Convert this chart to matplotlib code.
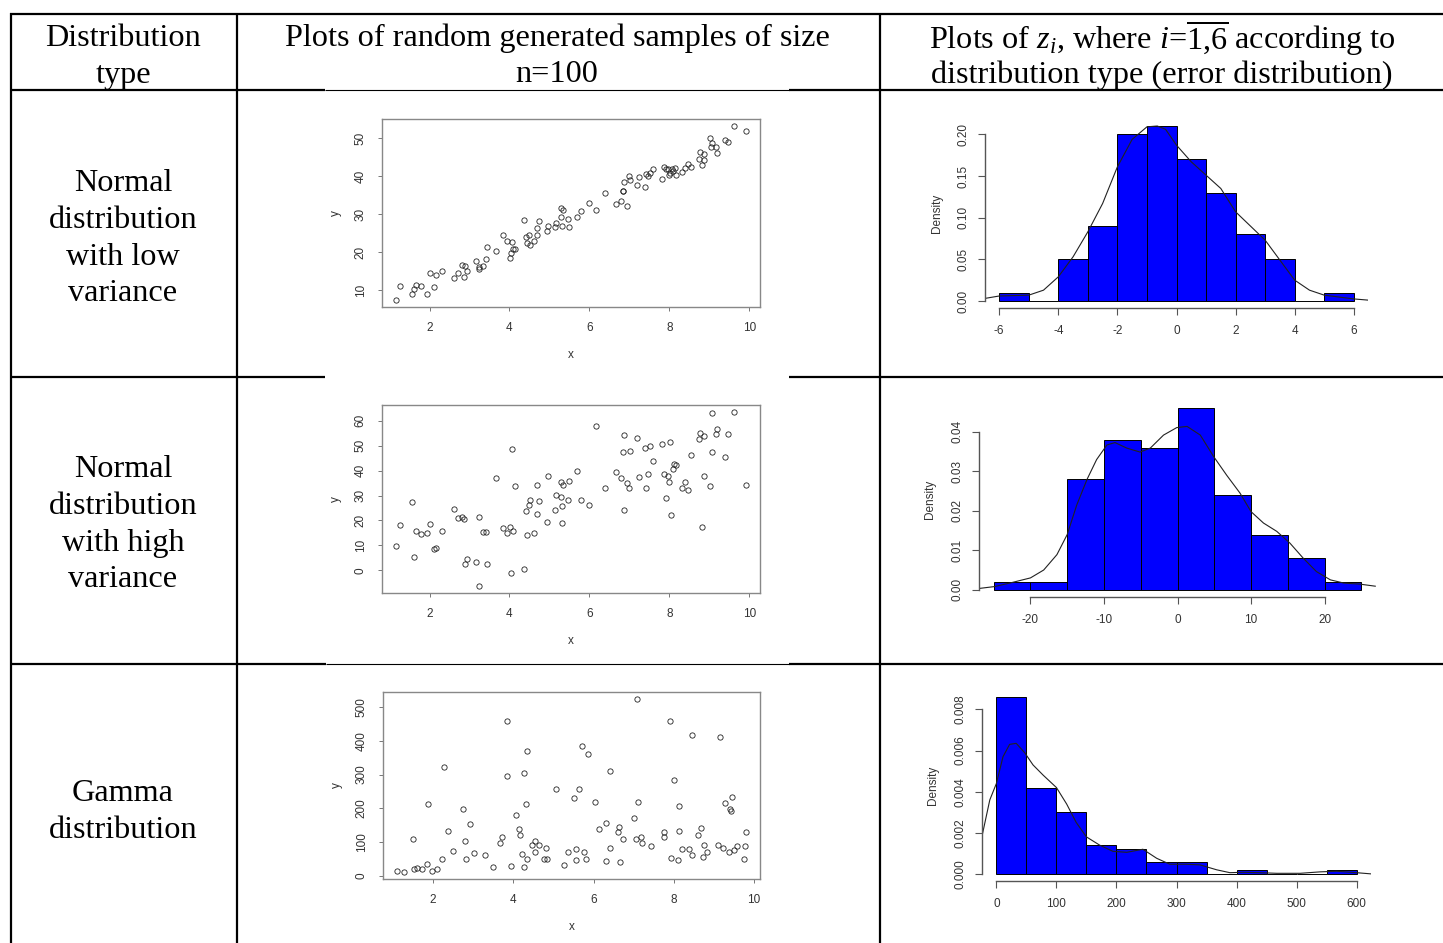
"""Table figure: distribution type | scatter of samples (n=100) | histogram of errors."""
import matplotlib
matplotlib.use("Agg")
import matplotlib.pyplot as plt
import numpy as np

W, H = 1443, 943

# ---- row 1: normal, low variance -------------------------------------------
x_low = [1.16, 1.25, 1.55, 1.60, 1.67, 1.79, 1.93, 2.00, 2.12, 2.17, 2.31, 2.62,
         2.71, 2.82, 2.85, 2.89, 2.94, 3.17, 3.23, 3.23, 3.34, 3.41, 3.43, 3.66,
         3.85, 3.95, 4.01, 4.03, 4.07, 4.09, 4.15, 4.36, 4.42, 4.45, 4.49, 4.52,
         4.62, 4.69, 4.70, 4.73, 4.93, 4.96, 5.13, 5.16, 5.28, 5.33, 5.30, 5.31,
         5.46, 5.50, 5.68, 5.78, 5.98, 6.16, 6.39, 6.66, 6.79, 6.83, 6.85, 6.86,
         6.95, 6.98, 7.02, 7.18, 7.24, 7.40, 7.42, 7.46, 7.52, 7.60, 7.82, 7.88,
         7.93, 7.98, 7.99, 8.03, 8.06, 8.10, 8.15, 8.18, 8.31, 8.39, 8.46, 8.55,
         8.74, 8.76, 8.82, 8.87, 8.88, 9.02, 9.07, 9.05, 9.17, 9.20, 9.40, 9.48,
         9.63, 9.92]
y_low = [7.4, 11.0, 9.0, 10.3, 11.4, 11.0, 8.9, 14.4, 10.8, 14.1, 15.0, 13.1,
         14.6, 16.6, 13.6, 16.3, 15.1, 17.8, 16.0, 15.6, 16.3, 18.3, 21.3, 20.3,
         24.5, 23.0, 18.6, 19.8, 22.6, 20.8, 20.9, 28.6, 24.1, 22.5, 24.6, 21.9,
         23.0, 24.5, 26.4, 28.2, 25.6, 26.8, 26.7, 27.7, 31.6, 31.2, 29.2, 26.9,
         28.8, 26.6, 29.2, 31.0, 33.1, 31.1, 35.6, 32.7, 33.6, 36.1, 36.1, 38.4,
         32.3, 40.1, 39.0, 37.7, 39.8, 37.1, 40.7, 40.0, 40.8, 41.9, 39.2, 42.4,
         42.0, 41.9, 40.4, 40.9, 42.0, 41.5, 42.2, 40.5, 41.1, 42.2, 43.3, 42.6,
         44.6, 46.4, 43.1, 44.3, 46.0, 50.1, 48.8, 47.8, 47.8, 46.1, 49.5, 49.1,
         53.3, 52.1]

# ---- row 2: normal, high variance ------------------------------------------
x_high = [1.16, 1.25, 1.55, 1.60, 1.67, 1.79, 1.93, 2.00, 2.12, 2.17, 2.31, 2.62,
          2.71, 2.82, 2.85, 2.89, 2.94, 3.17, 3.23, 3.23, 3.34, 3.41, 3.43, 3.66,
          3.85, 3.95, 4.01, 4.03, 4.07, 4.09, 4.15, 4.36, 4.42, 4.45, 4.49, 4.52,
          4.62, 4.69, 4.70, 4.73, 4.93, 4.96, 5.13, 5.16, 5.28, 5.33, 5.30, 5.31,
          5.31, 5.46, 5.50, 5.68, 5.78, 5.98, 6.16, 6.39, 6.66, 6.79, 6.83, 6.86,
          6.86, 6.95, 6.98, 7.02, 7.18, 7.24, 7.40, 7.42, 7.46, 7.52, 7.60, 7.82,
          7.88, 7.92, 7.98, 7.99, 8.02, 8.04, 8.10, 8.13, 8.17, 8.31, 8.39, 8.46,
          8.55, 8.74, 8.77, 8.82, 8.87, 8.88, 9.02, 9.06, 9.08, 9.17, 9.20, 9.40,
          9.48, 9.63, 9.92]
y_high = [9.9, 18.0, 27.2, 5.5, 15.7, 14.5, 15.0, 18.5, 8.5, 9.0, 15.7, 24.6,
          20.8, 21.2, 20.4, 2.4, 4.7, 3.2, 21.5, -6.3, 15.2, 15.4, 2.7, 37.2,
          16.9, 14.8, 17.4, -0.9, 48.7, 15.7, 33.7, 0.7, 23.9, 14.2, 26.2, 28.3,
          14.9, 22.4, 34.2, 27.7, 19.5, 38.0, 24.2, 30.2, 35.6, 34.2, 29.5, 18.9,
          25.8, 28.2, 35.7, 39.7, 28.2, 26.2, 57.7, 33.2, 39.5, 37.2, 47.5, 54.4,
          24.2, 34.9, 32.9, 47.9, 53.0, 37.4, 49.0, 33.2, 38.7, 49.8, 43.9, 50.6,
          38.7, 29.1, 37.9, 35.4, 51.3, 22.1, 40.5, 42.6, 42.4, 32.9, 35.3, 32.2,
          46.2, 52.5, 55.0, 17.2, 37.7, 54.0, 34.0, 63.2, 47.4, 54.5, 56.6, 45.5,
          54.5, 63.5, 34.2]

# ---- row 3: gamma -----------------------------------------------------------
x_gam = [1.10, 1.27, 1.51, 1.52, 1.60, 1.72, 1.86, 1.87, 1.97, 2.11, 2.22, 2.28,
         2.37, 2.50, 2.75, 2.80, 2.82, 2.91, 3.02, 3.30, 3.50, 3.68, 3.71, 3.84,
         3.84, 3.93, 4.07, 4.13, 4.16, 4.21, 4.26, 4.27, 4.32, 4.33, 4.35, 4.47,
         4.53, 4.55, 4.65, 4.77, 4.82, 4.84, 5.07, 5.26, 5.37, 5.51, 5.55, 5.57,
         5.64, 5.71, 5.76, 5.80, 5.85, 6.04, 6.13, 6.30, 6.31, 6.40, 6.40, 6.61,
         6.63, 6.65, 6.73, 7.01, 7.05, 7.09, 7.10, 7.18, 7.21, 7.44, 7.76, 7.76,
         7.90, 7.92, 8.01, 8.10, 8.13, 8.14, 8.20, 8.38, 8.46, 8.46, 8.60, 8.68,
         8.73, 8.76, 8.82, 9.11, 9.15, 9.23, 9.28, 9.38, 9.41, 9.42, 9.46, 9.50,
         9.57, 9.75, 9.77, 9.80]
y_gam = [15, 11, 110, 21, 23, 21, 35, 214, 14, 21, 51, 321,
         132, 74, 197, 102, 49, 153, 67, 63, 27, 97, 115, 460,
         297, 30, 181, 138, 121, 65, 25, 305, 214, 49, 370, 90,
         103, 70, 90, 49, 82, 51, 257, 32, 71, 230, 47, 80,
         257, 385, 71, 50, 362, 218, 138, 155, 43, 81, 310, 131,
         145, 40, 110, 172, 110, 524, 219, 116, 97, 89, 130, 114,
         458, 53, 283, 47, 132, 206, 80, 78, 417, 62, 121, 142,
         57, 91, 70, 91, 411, 83, 217, 71, 199, 191, 233, 76,
         88, 51, 87, 131]

# ---- histograms of errors (density) -----------------------------------------
h1_edges = [-6, -5, -4, -3, -2, -1, 0, 1, 2, 3, 4, 5, 6]
h1_dens = [0.01, 0.0, 0.05, 0.09, 0.20, 0.21, 0.17, 0.13, 0.08, 0.05, 0.0, 0.01]
k1_x = [-6.5, -6.0, -5.0, -4.5, -4.0, -3.5, -3.0, -2.5, -2.0, -1.5, -1.0, -0.65,
        -0.37, 0.0, 0.5, 1.0, 1.5, 2.0, 2.5, 3.0, 3.5, 4.0, 4.5, 5.0, 6.0, 6.5]
k1_y = [0.003, 0.006, 0.007, 0.013, 0.029, 0.053, 0.083, 0.117, 0.161, 0.194,
        0.209, 0.210, 0.206, 0.187, 0.167, 0.151, 0.135, 0.107, 0.090, 0.073,
        0.049, 0.025, 0.013, 0.007, 0.0025, 0.001]

h2_edges = [-25, -20, -15, -10, -5, 0, 5, 10, 15, 20, 25]
h2_dens = [0.002, 0.002, 0.028, 0.038, 0.036, 0.046, 0.024, 0.014, 0.008, 0.002]
k2_x = [-27.1, -24.9, -22.8, -20.0, -18.2, -16.4, -15.0, -13.7, -12.3, -11.0,
        -9.6, -8.5, -6.9, -5.1, -3.7, -1.9, -0.1, 1.3, 3.1, 4.9, 6.7, 8.5, 10.0,
        11.7, 13.5, 15.3, 17.1, 18.9, 20.8, 22.6, 24.9, 26.9]
k2_y = [0.0003, 0.0008, 0.0017, 0.003, 0.005, 0.0089, 0.014, 0.0215, 0.028,
        0.033, 0.0367, 0.0373, 0.0359, 0.0349, 0.0359, 0.0392, 0.0411, 0.0414,
        0.0392, 0.0338, 0.029, 0.0245, 0.0198, 0.0169, 0.0148, 0.0118, 0.008,
        0.0046, 0.0025, 0.0017, 0.0014, 0.0009]

h3_edges = [0, 50, 100, 150, 200, 250, 300, 350, 400, 450, 500, 550, 600]
h3_dens = [0.0086, 0.0042, 0.0030, 0.0014, 0.0012, 0.0006, 0.0006, 0.0, 0.0002,
           0.0, 0.0, 0.0002]
k3_x = [-25, -11, 0, 11, 22, 33, 47, 61, 78, 100, 117, 133, 150, 172, 194, 217,
        244, 267, 289, 317, 339, 367, 389, 411, 439, 467, 506, 539, 567, 600, 625]
k3_y = [0.0017, 0.0036, 0.0044, 0.0057, 0.0063, 0.00635, 0.0059, 0.0053, 0.0048,
        0.0042, 0.0034, 0.0025, 0.0018, 0.0014, 0.0011, 0.00105, 0.0012, 0.00076,
        0.00047, 0.00047, 0.00044, 0.0002, 0.00006, 0.00008, 0.00006, 0.00003,
        0.00003, 0.0001, 0.00013, 0.00006, 0.0]

row_labels = [["Normal", "distribution", "with low", "variance"],
              ["Normal", "distribution", "with high", "variance"],
              ["Gamma", "distribution"]]

plt.rcParams["mathtext.fontset"] = "custom"
plt.rcParams["mathtext.rm"] = "Liberation Serif"
plt.rcParams["mathtext.it"] = "Liberation Serif:italic"
plt.rcParams["axes.unicode_minus"] = False
plt.rcParams["font.family"] = ["Liberation Sans", "DejaVu Sans"]

SERIF = "Liberation Serif"
TXT = "#333333"


def px_axes(fig, left, top, right, bottom):
    return fig.add_axes([left / W, 1 - bottom / H, (right - left) / W, (bottom - top) / H])


def pad(lo, hi, f=0.04):
    d = (hi - lo) * f
    return lo - d, hi + d


def ftext(fig, x, y, s, **kw):
    fig.text(x / W, 1 - y / H, s, **kw)


def scatter_panel(fig, box, xs, ys, yticks):
    left, top, right, bottom = box
    ax = px_axes(fig, left, top, right, bottom)
    ax.plot(xs, ys, "o", mfc="none", mec="#222222", ms=3.8, mew=0.6)
    ax.set_xlim(pad(min(xs), max(xs)))
    ax.set_ylim(pad(min(ys), max(ys)))
    ax.set_xticks([2, 4, 6, 8, 10])
    ax.set_yticks(yticks)
    for s in ax.spines.values():
        s.set_color("#888888")
        s.set_linewidth(1.0)
    ax.tick_params(direction="out", length=3, width=0.7, color="#777777",
                   labelsize=8.5, labelcolor=TXT, pad=8)
    plt.setp(ax.get_yticklabels(), rotation=90, va="center")
    ftext(fig, (left + right) / 2, bottom + 48, "x", ha="center", va="center",
          fontsize=8.5, color=TXT)
    ftext(fig, left - 46, (top + bottom) / 2, "y", ha="center", va="center",
          fontsize=8.5, color=TXT, rotation=90)
    return ax


def hist_panel(fig, box, edges, dens, kx, ky, xticks, yticks, yfmt, ylab_x):
    left, top, right, bottom = box
    ax = px_axes(fig, left, top, right, bottom)
    edges = np.asarray(edges, dtype=float)
    ax.bar(edges[:-1], dens, width=np.diff(edges), align="edge", color="#0000FF",
           edgecolor="black", linewidth=0.7)
    ax.plot(kx, ky, color="#222222", lw=0.8)
    ax.set_xlim(pad(edges[0], edges[-1]))
    ax.set_ylim(pad(0, max(dens)))
    ax.set_xticks(xticks)
    ax.set_yticks(yticks)
    ax.set_yticklabels([yfmt.format(v) for v in yticks])
    ax.spines["top"].set_visible(False)
    ax.spines["right"].set_visible(False)
    ax.spines["left"].set_bounds(yticks[0], yticks[-1])
    ax.spines["bottom"].set_bounds(xticks[0], xticks[-1])
    for s in ("left", "bottom"):
        ax.spines[s].set_color("#555555")
        ax.spines[s].set_linewidth(1.0)
    ax.tick_params(direction="out", length=5, width=0.8, color="#555555",
                   labelsize=8.5, labelcolor=TXT)
    ax.tick_params(axis="x", pad=7)
    ax.tick_params(axis="y", pad=6)
    plt.setp(ax.get_yticklabels(), rotation=90, va="center")
    ftext(fig, ylab_x, (top + bottom) / 2, "Density", ha="center", va="center",
          fontsize=8.5, color=TXT, rotation=90)
    return ax


def main():
    fig = plt.figure(figsize=(W / 100, H / 100), dpi=100)
    fig.patch.set_facecolor("white")

    # table grid drawn in pixel space
    grid = fig.add_axes([0, 0, 1, 1])
    grid.set_xlim(0, W)
    grid.set_ylim(H, 0)
    grid.axis("off")
    thick = dict(color="black", lw=1.6, solid_capstyle="butt")
    thin = dict(color="black", lw=0.8, solid_capstyle="butt")
    grid.plot([10, W], [14, 14], **thick)
    for xv in (10.5, 237, 880):
        grid.plot([xv, xv], [13, H], **thick)
    grid.plot([10, 325], [90, 90], **thick)
    grid.plot([325, 789], [89.5, 89.5], **thin)
    grid.plot([789, W], [90, 90], **thick)
    grid.plot([10, 325], [377, 377], **thick)
    grid.plot([789, W], [377, 377], **thick)
    grid.plot([10, 326], [664, 664], **thick)
    grid.plot([326, 789], [663.5, 663.5], **thin)
    grid.plot([789, W], [664, 664], **thick)

    fs = 23.2
    hdr = dict(ha="center", va="center", fontsize=fs, family=SERIF, color="black")
    ftext(fig, 123, 38, "Distribution", **hdr)
    ftext(fig, 123, 75, "type", **hdr)
    ftext(fig, 557, 38, "Plots of random generated samples of size", **hdr)
    ftext(fig, 557, 74, "n=100", **hdr)
    ftext(fig, 1162, 38, r"Plots of $z_{i}$, where $i$=$\overline{1{,}6}$ according to", **hdr)
    ftext(fig, 1162, 75, "distribution type (error distribution)", **hdr)

    row_y0 = [183.5, 469.5, 793.5]
    for y0, lines in zip(row_y0, row_labels):
        for k, s in enumerate(lines):
            ftext(fig, 123, y0 + k * 36.8, s, **hdr)

    scatter_panel(fig, (382, 119, 760, 307), x_low, y_low, [10, 20, 30, 40, 50])
    scatter_panel(fig, (382, 405, 760, 593), x_high, y_high, [0, 10, 20, 30, 40, 50, 60])
    scatter_panel(fig, (383, 692, 760, 879), x_gam, y_gam, [0, 100, 200, 300, 400, 500])

    hist_panel(fig, (985, 119, 1368, 308), h1_edges, h1_dens, k1_x, k1_y,
               [-6, -4, -2, 0, 2, 4, 6], [0.0, 0.05, 0.10, 0.15, 0.20], "{:.2f}", 937)
    hist_panel(fig, (979, 401, 1376, 597), h2_edges, h2_dens, k2_x, k2_y,
               [-20, -10, 0, 10, 20], [0.0, 0.01, 0.02, 0.03, 0.04], "{:.2f}", 930)
    hist_panel(fig, (982, 690, 1371, 881), h3_edges, h3_dens, k3_x, k3_y,
               [0, 100, 200, 300, 400, 500, 600],
               [0.0, 0.002, 0.004, 0.006, 0.008], "{:.3f}", 933)

    fig.savefig("out.png", dpi=100, facecolor="white")


if __name__ == "__main__":
    main()
